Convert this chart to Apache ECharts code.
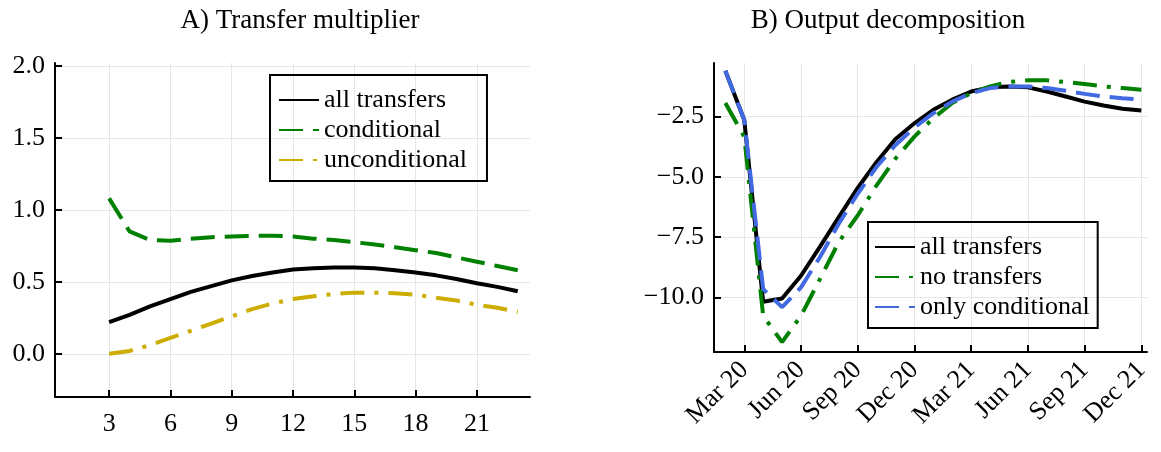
<!DOCTYPE html>
<html>
<head>
<meta charset="utf-8">
<script src="https://cdn.jsdelivr.net/npm/echarts@6/dist/echarts.min.js"></script>
<style>
  html, body { margin: 0; padding: 0; background: #fff; }
  #chart { width: 1161px; height: 452px; }
</style>
</head>
<body>
<div id="chart"></div>
<script>
// panel A: horizon (quarters) and multipliers
var horizon = [3, 4, 5, 6, 7, 8, 9, 10, 11, 12, 13, 14, 15, 16, 17, 18, 19, 20, 21, 22, 23];
var multAll = [0.22, 0.27, 0.33, 0.38, 0.43, 0.47, 0.51, 0.54, 0.565, 0.585, 0.595, 0.6, 0.6, 0.595, 0.58, 0.565, 0.545, 0.52, 0.49, 0.465, 0.435];
var multCond = [1.08, 0.85, 0.79, 0.785, 0.8, 0.81, 0.815, 0.82, 0.82, 0.815, 0.8, 0.79, 0.775, 0.76, 0.74, 0.72, 0.7, 0.67, 0.64, 0.61, 0.58];
var multUncond = [0.0, 0.02, 0.06, 0.11, 0.16, 0.21, 0.26, 0.31, 0.35, 0.38, 0.4, 0.415, 0.425, 0.425, 0.42, 0.41, 0.39, 0.37, 0.34, 0.32, 0.29];
var aTicksX = [3, 6, 9, 12, 15, 18, 21];
var aTicksY = [0, 0.5, 1, 1.5, 2];

// panel B: months Feb 20 .. Dec 21 (index 0 = Feb 20)
var monthIdx = [0, 1, 2, 3, 4, 5, 6, 7, 8, 9, 10, 11, 12, 13, 14, 15, 16, 17, 18, 19, 20, 21, 22];
var outAll = [-0.6, -2.64, -10.18, -10.04, -9.1, -7.9, -6.67, -5.46, -4.38, -3.43, -2.78, -2.22, -1.8, -1.46, -1.29, -1.25, -1.29, -1.46, -1.67, -1.88, -2.04, -2.18, -2.25];
var outNone = [-1.94, -3.33, -10.76, -11.85, -10.76, -9.24, -7.7, -6.6, -5.35, -4.24, -3.33, -2.57, -1.94, -1.53, -1.25, -1.07, -1.0, -1.0, -1.07, -1.15, -1.25, -1.32, -1.39];
var outCond = [-0.6, -2.64, -9.65, -10.4, -9.58, -8.33, -6.94, -5.7, -4.58, -3.68, -2.96, -2.36, -1.88, -1.53, -1.32, -1.25, -1.25, -1.32, -1.43, -1.56, -1.67, -1.74, -1.8];
var bTicksX = [1, 4, 7, 10, 13, 16, 19, 22];
var bTickLabels = ['Mar 20', 'Jun 20', 'Sep 20', 'Dec 20', 'Mar 21', 'Jun 21', 'Sep 21', 'Dec 21'];
var bTicksY = [-10, -7.5, -5, -2.5];

var FONT = 'Liberation Serif';
var DASH = [24, 10];
var DASHDOT = [24, 10, 4, 10];

function pairs(xs, ys) {
    return xs.map(function (x, i) { return [x, ys[i]]; });
}

function xAxisCfg(idx, min, max, ticks, fmt, rotate) {
    return {
        type: 'value', gridIndex: idx, min: min, max: max,
        axisLine: { onZero: false, lineStyle: { color: '#000', width: 2 } },
        axisTick: { inside: true, length: 7, customValues: ticks, lineStyle: { color: '#000', width: 2 } },
        axisLabel: { customValues: ticks, formatter: fmt, rotate: rotate, color: '#000', fontFamily: FONT, fontSize: 26, margin: 14 },
        splitLine: { show: true, lineStyle: { color: '#e6e6e6' } }
    };
}
function yAxisCfg(idx, min, max, ticks, fmt) {
    return {
        type: 'value', gridIndex: idx, min: min, max: max,
        axisLine: { show: true, onZero: false, lineStyle: { color: '#000', width: 2 } },
        axisTick: { show: true, inside: true, length: 7, customValues: ticks, lineStyle: { color: '#000', width: 2 } },
        axisLabel: { customValues: ticks, formatter: fmt, color: '#000', fontFamily: FONT, fontSize: 26, margin: 10 },
        splitLine: { show: true, lineStyle: { color: '#e6e6e6' } }
    };
}
function line(name, xi, yi, data, color, type) {
    return {
        name: name, type: 'line', xAxisIndex: xi, yAxisIndex: yi, data: data,
        symbol: 'none', smooth: false, animation: false,
        lineStyle: { color: color, width: 4, type: type },
        itemStyle: { color: color }
    };
}

var legendText = { color: '#000', fontFamily: FONT, fontSize: 26 };

var chart = echarts.init(document.getElementById('chart'));
chart.setOption({
    backgroundColor: '#fff',
    animation: false,
    title: [
        { text: 'A) Transfer multiplier', left: 295, top: 2, textAlign: 'center',
          textStyle: { fontFamily: FONT, fontWeight: 'normal', fontSize: 27, color: '#000' } },
        { text: 'B) Output decomposition', left: 883, top: 2, textAlign: 'center',
          textStyle: { fontFamily: FONT, fontWeight: 'normal', fontSize: 27, color: '#000' } }
    ],
    grid: [
        { left: 55, right: 631, top: 63, bottom: 55 },
        { left: 714, right: 14, top: 63, bottom: 100 }
    ],
    legend: [
        { data: ['all transfers', 'conditional', 'unconditional'], orient: 'vertical',
          left: 270, top: 75, padding: [12, 20, 8, 8], itemGap: 4,
          itemWidth: 40, itemHeight: 14, itemStyle: { opacity: 0 },
          borderColor: '#000', borderWidth: 2, textStyle: legendText },
        { data: ['all transfers ', 'no transfers', 'only conditional'], orient: 'vertical',
          left: 868, top: 222, padding: [12, 8, 8, 6], itemGap: 4,
          itemWidth: 40, itemHeight: 14, itemStyle: { opacity: 0 },
          borderColor: '#000', borderWidth: 2, textStyle: legendText }
    ],
    xAxis: [
        xAxisCfg(0, 0.35, 23.6, aTicksX, function (v) { return v; }, 0),
        xAxisCfg(1, -0.6, 22.3, bTicksX, function (v) { return bTickLabels[bTicksX.indexOf(v)] || ''; }, 45)
    ],
    yAxis: [
        yAxisCfg(0, -0.3, 2.02, aTicksY, function (v) { return v.toFixed(1); }),
        yAxisCfg(1, -12.26, -0.28, bTicksY, function (v) { return '\u2212' + Math.abs(v).toFixed(1); })
    ],
    series: [
        line('all transfers', 0, 0, pairs(horizon, multAll), '#000000', 'solid'),
        line('conditional', 0, 0, pairs(horizon, multCond), '#008000', DASH),
        line('unconditional', 0, 0, pairs(horizon, multUncond), '#ccad00', DASHDOT),
        line('all transfers ', 1, 1, pairs(monthIdx, outAll), '#000000', 'solid'),
        line('no transfers', 1, 1, pairs(monthIdx, outNone), '#008000', DASHDOT),
        line('only conditional', 1, 1, pairs(monthIdx, outCond), '#4169e1', DASH)
    ]
});
</script>
</body>
</html>
